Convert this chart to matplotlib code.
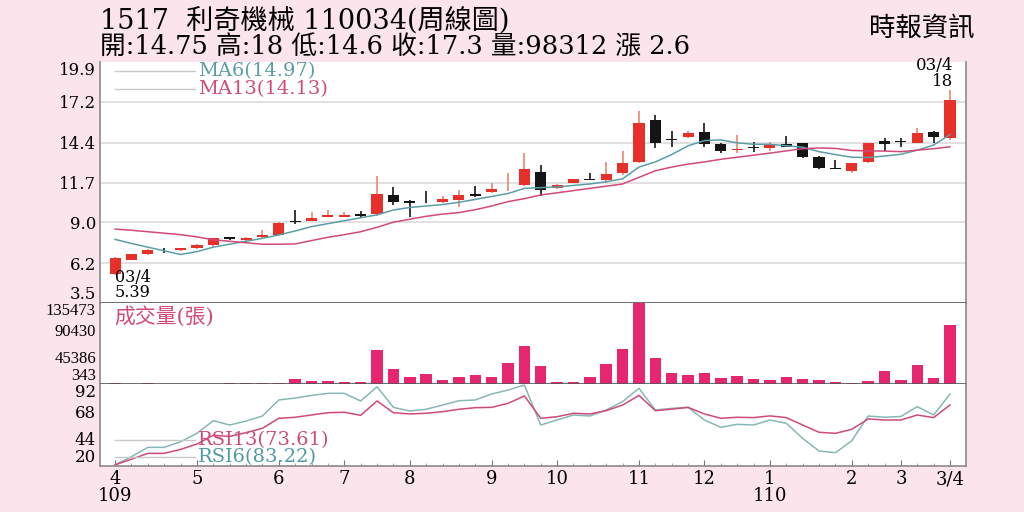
import matplotlib
matplotlib.use("Agg")
import matplotlib.pyplot as plt
import numpy as np

# weekly candles, 52 weeks (109/03 ~ 110/03/04)
opens = [5.50, 6.42, 6.81, 7.10, 7.10, 7.22, 7.47, 7.98, 7.79, 7.97,
         8.13, 9.06, 9.10, 9.37, 9.38, 9.53, 9.53, 10.85, 10.45, 10.38,
         10.37, 10.50, 10.92, 11.05, 11.50, 11.50, 12.44, 11.30, 11.68, 11.93,
         11.87, 12.36, 13.12, 15.98, 14.65, 14.81, 15.16, 14.32, 13.90, 14.08,
         14.07, 14.32, 14.36, 13.41, 12.68, 12.50, 13.12, 14.52, 14.47, 14.42,
         15.16, 14.75]
highs = [6.60, 6.85, 7.20, 7.26, 7.25, 7.50, 7.95, 8.00, 8.00, 8.47,
         9.00, 9.83, 9.71, 9.83, 9.67, 9.76, 12.14, 11.41, 10.50, 11.14,
         10.78, 11.19, 11.46, 11.64, 12.32, 13.68, 12.90, 11.60, 11.95, 12.36,
         13.12, 13.86, 16.58, 16.29, 15.22, 15.20, 15.72, 14.40, 14.93, 14.47,
         14.47, 14.86, 14.40, 13.50, 13.23, 13.05, 14.40, 14.70, 14.70, 15.38,
         15.20, 18.00]
lows = [5.39, 6.40, 6.75, 6.90, 7.05, 7.20, 7.33, 7.82, 7.75, 7.95,
        8.10, 8.87, 9.08, 9.35, 9.35, 9.38, 9.45, 10.17, 9.33, 10.30,
        10.30, 10.00, 10.73, 11.00, 11.14, 11.45, 10.78, 11.25, 11.65, 11.85,
        11.68, 12.20, 13.00, 14.06, 14.09, 14.75, 14.14, 13.68, 13.72, 13.79,
        13.86, 14.10, 13.34, 12.60, 12.64, 12.32, 13.00, 13.86, 14.14, 14.40,
        14.36, 14.60]
closes = [6.56, 6.81, 7.10, 7.08, 7.22, 7.45, 7.92, 7.84, 7.94, 8.12,
          8.96, 9.02, 9.28, 9.49, 9.48, 9.40, 10.90, 10.35, 10.30, 10.34,
          10.55, 10.85, 10.78, 11.28, 11.55, 12.60, 11.19, 11.50, 11.91, 11.89,
          12.25, 13.04, 15.72, 14.40, 14.60, 15.04, 14.30, 13.84, 14.00, 14.05,
          14.30, 14.14, 13.46, 12.68, 12.64, 13.00, 14.36, 14.32, 14.44, 15.04,
          14.78, 17.30]
ma6 = [7.83, 7.55, 7.30, 7.05, 6.80, 7.00, 7.30, 7.50, 7.70, 7.90,
       8.13, 8.40, 8.70, 8.90, 9.10, 9.30, 9.50, 9.83, 10.00, 10.10,
       10.20, 10.35, 10.55, 10.75, 10.95, 11.30, 11.35, 11.40, 11.50, 11.60,
       11.75, 11.95, 12.75, 13.10, 13.60, 14.20, 14.55, 14.60, 14.40, 14.30,
       14.30, 14.20, 14.10, 13.80, 13.60, 13.42, 13.40, 13.50, 13.62, 13.90,
       14.25, 14.97]
ma13 = [8.53, 8.45, 8.35, 8.25, 8.15, 8.00, 7.80, 7.70, 7.60, 7.50,
        7.50, 7.52, 7.75, 7.97, 8.15, 8.35, 8.65, 9.00, 9.20, 9.40,
        9.55, 9.65, 9.85, 10.10, 10.40, 10.60, 10.85, 11.00, 11.15, 11.30,
        11.45, 11.60, 12.05, 12.50, 12.75, 12.95, 13.10, 13.28, 13.42, 13.56,
        13.70, 13.85, 14.00, 14.05, 14.02, 13.88, 13.85, 13.84, 13.80, 13.90,
        14.00, 14.13]
volumes = [1200, 900, 1500, 1000, 800, 900, 1100, 1300, 1500, 2500,
           2500, 9500, 6000, 4800, 3200, 3700, 57000, 24900, 11500, 16500,
           7500, 11400, 15400, 12500, 34900, 64200, 30900, 3200, 4200, 12500,
           33200, 59200, 135473, 44200, 19200, 15400, 19200, 9900, 14200, 8700,
           7000, 12500, 8700, 6400, 4200, 2500, 5400, 22000, 6400, 32500,
           10400, 98312]
rsi6 = [21, 28.2, 36.4, 36.4, 41.3, 48.7, 59.8, 56, 59.5, 63.9,
        78, 79.7, 82, 83.8, 83.8, 77.1, 89.6, 71.5, 68.3, 69.8,
        73.5, 77.3, 78, 83.2, 86.7, 91.1, 56, 60.4, 64.8, 63.9,
        69.2, 76.5, 88.2, 69.2, 70.6, 71.5, 60.4, 54, 56.6, 56,
        60.4, 57.5, 44.3, 33.2, 31.7, 42.2, 63.9, 62.8, 63.5, 72.1,
        64.8, 83.22]
rsi13 = [21, 26, 31.1, 31.1, 34.6, 39.3, 47, 46, 49.3, 53.1,
         61.9, 62.8, 64.8, 66.8, 67.2, 64.5, 77.1, 66.8, 65.7, 66.3,
         67.7, 69.8, 71.2, 71.5, 75, 81.5, 61.9, 63.3, 66.3, 65.7,
         68.6, 73.5, 82, 68.6, 69.9, 71.5, 65.7, 61.9, 62.8, 62.5,
         64, 62.5, 56, 49.6, 48.7, 52.2, 61.3, 60.4, 60.4, 64.8,
         62.5, 73.61]

price_ticks = [3.5, 6.2, 9.0, 11.7, 14.4, 17.2, 19.9]
vol_ticks = [343, 45386, 90430, 135473]
rsi_ticks = [20, 44, 68, 92]
month_pos = [0, 5, 10, 14, 18, 23, 27, 32, 36, 40, 45, 48, 51]
month_labels = ["4\n109", "5", "6", "7", "8", "9", "10", "11", "12", "1\n110", "2", "3", "3/4"]

BG = "#fce4ec"
RED = "#e8302a"
RED_WICK = "#e9856f"
BLACK = "#151515"
TEAL = "#5b9ea6"
PINK = "#d2497a"
VOLC = "#e6276f"
SERIF = ["DejaVu Serif", "Noto Sans CJK TC"]
NARROW = ["Liberation Serif", "Noto Sans CJK TC"]

fig = plt.figure(figsize=(10.24, 5.12), dpi=100, facecolor=BG)
ax_p = fig.add_axes([0.0977, 0.4082, 0.8457, 0.4707])
ax_v = fig.add_axes([0.0977, 0.25, 0.8457, 0.1582], sharex=ax_p)
ax_r = fig.add_axes([0.0977, 0.0898, 0.8457, 0.1602], sharex=ax_p)

x = np.arange(len(closes))
o = np.array(opens)
c = np.array(closes)
up = c >= o
body_lo = np.minimum(o, c)
body_h = np.maximum(np.abs(c - o), 0.06)

# price panel
ax_p.vlines(x[up], np.array(lows)[up], np.array(highs)[up], color=RED_WICK, lw=1.2, zorder=2)
ax_p.vlines(x[~up], np.array(lows)[~up], np.array(highs)[~up], color=BLACK, lw=1.2, zorder=2)
ax_p.bar(x, body_h, bottom=body_lo, width=0.68,
         color=np.where(up, RED, BLACK), edgecolor="none", zorder=3)
ax_p.plot(x, ma6, color=TEAL, lw=1.1, zorder=4)
ax_p.plot(x, ma13, color=PINK, lw=1.1, zorder=4)
ax_p.set_ylim(3.5, 19.9)
ax_p.set_xlim(-0.92, 51.98)
ax_p.set_yticks(price_ticks)
ax_p.set_yticklabels([f"{t:.1f}" for t in price_ticks])
for t in price_ticks[1:-1]:
    ax_p.axhline(t, color="#dcdcdc", lw=1.2, zorder=0)

ax_p.plot([0.017, 0.11], [0.963, 0.963], transform=ax_p.transAxes, color="#c8c8c8", lw=1)
ax_p.plot([0.017, 0.11], [0.889, 0.889], transform=ax_p.transAxes, color="#c8c8c8", lw=1)
ax_p.text(0.113, 0.963, "MA6(14.97)", transform=ax_p.transAxes, color=TEAL,
          fontsize=14, family=SERIF, va="center")
ax_p.text(0.113, 0.889, "MA13(14.13)", transform=ax_p.transAxes, color=PINK,
          fontsize=14, family=SERIF, va="center")
ax_p.text(51.2, 18.0, "03/4\n18", ha="right", va="bottom", multialignment="right",
          fontsize=12, family=SERIF, linespacing=0.9)
ax_p.text(0.0, 3.62, "03/4\n5.39", ha="left", va="bottom", fontsize=11.5, family=SERIF,
          linespacing=0.85, zorder=6)

# volume panel
ax_v.bar(x, volumes, width=0.7, color=VOLC, bottom=0, zorder=2)
ax_v.set_ylim(343, 135473)
ax_v.set_yticks(vol_ticks)
ax_v.set_yticklabels([str(t) for t in vol_ticks])
ax_v.text(0.017, 0.84, "成交量(張)", transform=ax_v.transAxes, color=PINK,
          fontsize=15, family=SERIF, va="center")

# rsi panel
ax_r.plot(x, rsi6, color="#86b8b6", lw=1.1)
ax_r.plot(x, rsi13, color="#cf4a78", lw=1.1)
ax_r.set_ylim(20, 92)
ax_r.set_yticks(rsi_ticks)
ax_r.set_yticklabels([str(t) for t in rsi_ticks])
ax_r.plot([0.017, 0.11], [0.317, 0.317], transform=ax_r.transAxes, color="#c8c8c8", lw=1)
ax_r.plot([0.017, 0.11], [0.11, 0.11], transform=ax_r.transAxes, color="#c8c8c8", lw=1)
ax_r.text(0.113, 0.317, "RSI13(73.61)", transform=ax_r.transAxes, color="#cf4a78",
          fontsize=14, family=SERIF, va="center")
ax_r.text(0.113, 0.11, "RSI6(83.22)", transform=ax_r.transAxes, color="#4f9aa6",
          fontsize=14, family=SERIF, va="center")

ax_r.set_xticks(month_pos)
ax_r.set_xticklabels(month_labels)
ax_r.set_xticks(x, minor=True)
ax_r.tick_params(axis="x", which="major", length=4, direction="in", color="#777777",
                 labelsize=13, pad=3)
ax_r.tick_params(axis="x", which="minor", length=2, direction="in", color="#999999")
for lab in ax_r.get_xticklabels():
    lab.set_family(SERIF)
    lab.set_linespacing(0.9)

for ax, fam, size in ((ax_p, SERIF, 12), (ax_v, NARROW, 12), (ax_r, SERIF, 12)):
    ax.set_facecolor("white")
    ax.tick_params(axis="y", length=0, pad=3, labelsize=size)
    for lab in ax.get_yticklabels():
        lab.set_family(fam)
    labs = ax.get_yticklabels()
    labs[0].set_va("bottom")
    labs[-1].set_va("top")
    for s in ("left", "right", "top", "bottom"):
        ax.spines[s].set_color("#8a8a8a")
        ax.spines[s].set_linewidth(1.2)
    ax.spines["top"].set_visible(False)
ax_p.spines["bottom"].set_color("#555555")
ax_v.spines["bottom"].set_color("#555555")
ax_p.tick_params(axis="x", which="both", length=0, labelbottom=False)
ax_v.tick_params(axis="x", which="both", length=0, labelbottom=False)

# header
fig.text(0.098, 0.957, "1517  利奇機械 110034(周線圖)", fontsize=19.5, family=SERIF,
         va="center", ha="left")
fig.text(0.098, 0.907, "開:14.75 高:18 低:14.6 收:17.3 量:98312 漲 2.6", fontsize=18.5,
         family=SERIF, va="center", ha="left")
fig.text(0.952, 0.945, "時報資訊", fontsize=19, family=SERIF, va="center", ha="right")

fig.savefig("out.png", dpi=100, facecolor=BG)
